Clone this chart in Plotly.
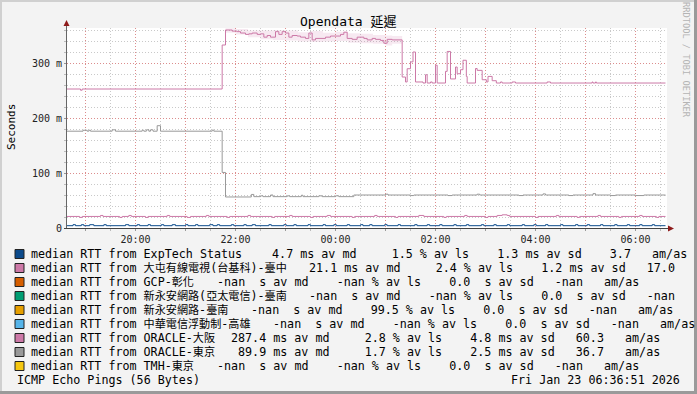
import plotly.graph_objects as go
from datetime import datetime

# ---------------- data (ms) ----------------
osaka_times = ["18:37", "18:54", "18:56", "21:44", "21:48", "21:56", "22:02", "22:06", "22:12", "22:16",
               "22:20", "22:26", "22:30", "22:34", "22:38", "22:42", "22:48", "22:52", "22:56", "23:00",
               "23:04", "23:08", "23:14", "23:18", "23:24", "23:28", "23:32", "23:36", "23:48", "23:54",
               "00:06", "00:10", "00:14", "00:20", "00:26", "00:34", "00:38", "00:44", "00:48", "00:54",
               "00:58", "01:02", "01:08", "01:20", "01:24", "01:26", "01:30", "01:33", "01:36", "01:45",
               "01:48", "01:50", "01:54", "01:56", "02:00", "02:02", "02:12", "02:14", "02:18", "02:24",
               "02:26", "02:30", "02:33", "02:37", "02:38", "02:48", "02:50", "02:56", "03:01", "03:03",
               "03:08", "03:13", "03:18", "03:20", "03:32", "03:36", "04:14", "04:18", "05:08", "05:09",
               "05:12", "05:13", "06:36"]
osaka_ms = [252.7, 250.5, 252.7, 332.7, 360.0, 358.0, 357.0, 354.5, 352.0, 353.0,
            354.5, 352.0, 353.0, 347.0, 350.0, 347.0, 357.0, 352.0, 357.0, 354.5,
            347.0, 350.0, 349.0, 347.0, 344.7, 354.5, 342.0, 344.7, 347.0, 349.0,
            352.0, 356.0, 344.7, 343.0, 347.0, 344.7, 342.0, 344.7, 343.0, 341.0,
            336.0, 343.0, 342.0, 274.5, 265.5, 289.6, 302.0, 320.0, 265.5, 263.6,
            278.7, 263.6, 265.5, 263.6, 296.0, 263.6, 284.8, 321.0, 271.0, 292.7,
            280.5, 287.8, 305.0, 275.6, 263.6, 290.0, 286.6, 269.6, 265.5, 275.6,
            267.8, 263.6, 265.5, 263.6, 265.5, 263.6, 265.5, 263.6, 265.5, 263.6,
            265.5, 263.6, 263.6]

# smoke (spread of pings) around the ORACLE-大阪 median
osaka_smoke_times = ["21:48", "22:00", "22:15", "22:30", "22:45", "23:00", "23:15", "23:30", "23:45",
                     "00:00", "00:15", "00:30", "00:45", "01:00", "01:08", "01:20"]
osaka_smoke_hi = [363, 362, 359, 359, 360, 359, 356, 358, 355, 357, 354, 353, 351, 350, 349, 349]
osaka_smoke_lo = [355, 352, 347, 343, 342, 341, 339, 338, 339, 340, 337, 336, 335, 332, 335, 335]

tokyo_times = ["18:37", "18:57", "19:02", "19:04", "19:06", "19:32", "19:36", "20:08", "20:10", "20:13",
               "20:16", "20:18", "20:21", "20:26", "20:30", "21:32", "21:34", "21:44", "21:48", "22:19",
               "22:22", "22:30", "22:33", "22:42", "22:45", "23:02", "23:05", "23:19", "23:21", "23:40",
               "23:44", "00:00", "00:04", "00:22", "01:00", "01:03", "01:30", "01:34", "02:15", "02:20",
               "02:50", "02:53", "03:40", "03:45", "04:09", "04:12", "04:40", "04:45", "05:09", "05:12",
               "05:30", "05:36", "06:00", "06:10", "06:36"]
tokyo_ms = [176.0, 177.7, 176.0, 177.7, 176.0, 178.5, 176.0, 177.7, 176.0, 178.5,
            176.0, 178.5, 176.0, 186.0, 176.0, 178.0, 176.0, 101.0, 56.4, 61.0,
            57.0, 58.5, 57.0, 60.0, 57.0, 58.5, 57.0, 59.5, 57.0, 58.5,
            57.0, 58.5, 57.0, 60.0, 61.5, 60.0, 59.0, 60.0, 59.0, 60.0,
            61.5, 60.0, 59.0, 60.0, 62.0, 60.0, 59.0, 60.0, 62.5, 60.0,
            59.0, 60.0, 59.0, 60.0, 59.5]

daton_times = ["18:37", "18:53", "18:56", "19:18", "19:21", "19:41", "19:44", "19:52", "19:55", "20:12",
               "20:15", "20:38", "20:41", "21:02", "21:06", "21:25", "21:28", "21:50", "21:53", "22:15",
               "22:18", "22:44", "22:47", "23:05", "23:08", "23:30", "23:33", "23:50", "23:54", "00:20",
               "00:23", "00:47", "00:50", "01:12", "01:15", "01:40", "01:46", "02:10", "02:13", "02:35",
               "02:38", "03:00", "03:03", "03:14", "03:20", "03:26", "03:29", "04:00", "04:03", "04:25",
               "04:28", "04:50", "04:53", "05:15", "05:18", "05:40", "05:43", "06:05", "06:08", "06:25",
               "06:28", "06:36"]
daton_ms = [21.0, 19.2, 21.0, 22.8, 21.0, 19.2, 21.0, 22.8, 21.0, 19.2,
            21.0, 22.8, 21.0, 19.2, 21.0, 22.8, 21.0, 19.2, 21.0, 22.8,
            21.0, 19.2, 21.0, 22.8, 21.0, 19.2, 21.0, 22.8, 21.0, 19.2,
            21.0, 22.8, 21.0, 19.2, 21.0, 22.8, 21.0, 19.2, 21.0, 22.8,
            21.0, 19.2, 21.0, 22.8, 24.0, 22.8, 21.0, 19.2, 21.0, 22.8,
            21.0, 19.2, 21.0, 22.8, 21.0, 19.2, 21.0, 22.8, 21.0, 19.2,
            21.0, 21.0]

exptech_times = ["18:37", "18:45", "18:48", "18:55", "18:58", "19:05", "19:10", "19:22", "19:25", "19:48",
                 "19:52", "20:02", "20:05", "20:15", "20:18", "20:31", "20:34", "20:44", "20:48", "21:00",
                 "21:03", "21:12", "21:15", "21:29", "21:33", "21:38", "21:41", "21:55", "21:58", "22:10",
                 "22:13", "22:20", "22:24", "22:40", "22:43", "22:58", "23:01", "23:10", "23:13", "23:27",
                 "23:30", "23:45", "23:48", "23:58", "00:01", "00:14", "00:17", "00:30", "00:33", "00:41",
                 "00:44", "00:59", "01:02", "01:15", "01:18", "01:35", "01:38", "01:50", "01:53", "02:05",
                 "02:08", "02:22", "02:25", "02:37", "02:40", "02:55", "02:58", "03:10", "03:13", "03:26",
                 "03:29", "03:44", "03:47", "03:58", "04:01", "04:12", "04:15", "04:30", "04:33", "04:48",
                 "04:51", "05:02", "05:05", "05:18", "05:21", "05:35", "05:38", "05:50", "05:53", "06:05",
                 "06:08", "06:20", "06:23", "06:36"]
exptech_ms = [4.2, 6.0, 4.2, 6.0, 4.2, 6.0, 4.2, 6.0, 4.2, 6.0,
              4.2, 6.0, 4.2, 6.0, 4.2, 6.0, 4.2, 6.0, 4.2, 6.0,
              4.2, 6.0, 4.2, 6.0, 4.2, 6.0, 4.2, 6.0, 4.2, 6.0,
              4.2, 6.0, 4.2, 6.0, 4.2, 6.0, 4.2, 6.0, 4.2, 6.0,
              4.2, 6.0, 4.2, 6.0, 4.2, 6.0, 4.2, 6.0, 4.2, 6.0,
              4.2, 6.0, 4.2, 6.0, 4.2, 6.0, 4.2, 6.0, 4.2, 6.0,
              4.2, 6.0, 4.2, 6.0, 4.2, 6.0, 4.2, 6.0, 4.2, 6.0,
              4.2, 6.0, 4.2, 6.0, 4.2, 6.0, 4.2, 6.0, 4.2, 6.0,
              4.2, 6.0, 4.2, 6.0, 4.2, 6.0, 4.2, 6.0, 4.2, 6.0,
              4.2, 6.0, 4.2, 4.2]

host_labels = ["ExpTech Status", "大屯有線電視(台基科)-臺中", "GCP-彰化", "新永安網路(亞太電信)-臺南",
               "新永安網路-臺南", "中華電信浮動制-高雄", "ORACLE-大阪", "ORACLE-東京", "TMH-東京"]
host_colors = ["#0b4a8b", "#cc79a7", "#d55e00", "#009e73", "#e69f00", "#56b4e9", "#cc79a7", "#999999", "#f5c710"]
stat_md = ["4.7", "21.1", "-nan", "-nan", "-nan", "-nan", "287.4", "89.9", "-nan"]
stat_md_unit = ["m", "m", " ", " ", " ", " ", "m", "m", " "]
stat_ls = ["1.5", "2.4", "-nan", "-nan", "99.5", "-nan", "2.8", "1.7", "-nan"]
stat_sd = ["1.3", "1.2", "0.0", "0.0", "0.0", "0.0", "4.8", "2.5", "0.0"]
stat_sd_unit = ["m", "m", " ", " ", " ", " ", "m", "m", " "]
stat_amas = ["3.7", "17.0", "-nan", "-nan", "-nan", "-nan", "60.3", "36.7", "-nan"]

y_tick_vals = [0, 100, 200, 300]
y_tick_text = ["0", "100 m", "200 m", "300 m"]

# ---------------- layout helpers ----------------
W, H = 697, 394
L, R, T, B = 67, 30, 28, 166
PW, PH = W - L - R, H - T - B


def px(x):
    return (x - L) / PW


def py(y):
    return (H - B - y) / PH


def to_dt(s):
    h, m = map(int, s.split(":"))
    return datetime(2026, 1, 22 if h >= 12 else 23, h, m)


MONO = "DejaVu Sans Mono, Noto Sans CJK TC, monospace"
CW = 7.04  # advance of one legend character in px


def cjk_wrap(s):
    out, run_cjk, buf = [], None, ""
    for ch in s:
        is_cjk = ord(ch) > 0x2E80
        if run_cjk is None or is_cjk == run_cjk:
            buf += ch
        else:
            out.append((run_cjk, buf))
            buf = ch
        run_cjk = is_cjk
    if buf:
        out.append((run_cjk, buf))
    res = ""
    for c, t in out:
        t = t.replace(" ", "\u00a0")
        res += f'<span style="font-size:11.1px">{t}</span>' if c else t
    return res


def label_width(s):
    return sum(11.1 if ord(ch) > 0x2E80 else CW for ch in s)


fig = go.Figure()
series = [(exptech_times, exptech_ms, host_colors[0]),
          (daton_times, daton_ms, host_colors[1])]
for ts, vs, c in series:
    fig.add_trace(go.Scatter(x=[to_dt(t) for t in ts], y=vs, mode="lines",
                             line=dict(color=c, width=1, shape="hv"),
                             showlegend=False, hoverinfo="skip"))
# smoke band
fig.add_trace(go.Scatter(x=[to_dt(t) for t in osaka_smoke_times], y=osaka_smoke_lo, mode="lines",
                         line=dict(width=0, shape="hv"), showlegend=False, hoverinfo="skip"))
fig.add_trace(go.Scatter(x=[to_dt(t) for t in osaka_smoke_times], y=osaka_smoke_hi, mode="lines",
                         line=dict(width=0, shape="hv"), fill="tonexty",
                         fillcolor="rgba(204,121,167,0.16)", showlegend=False, hoverinfo="skip"))
for ts, vs, c in [(osaka_times, osaka_ms, host_colors[6]), (tokyo_times, tokyo_ms, host_colors[7])]:
    fig.add_trace(go.Scatter(x=[to_dt(t) for t in ts], y=vs, mode="lines",
                             line=dict(color=c, width=1, shape="hv"),
                             showlegend=False, hoverinfo="skip"))

hours = [datetime(2026, 1, 22, h) for h in range(19, 24)] + [datetime(2026, 1, 23, h) for h in range(0, 7)]
tick_text = [h.strftime("%H:%M") if h.hour % 2 == 0 else "" for h in hours]

MAJ = "rgba(225,120,120,0.75)"
MIN = "#c9c9c9"
DASH = "1px,2px"

fig.update_layout(
    width=W, height=H,
    margin=dict(l=L, r=R, t=T, b=B),
    paper_bgcolor="#f3f3f3", plot_bgcolor="#ffffff",
    showlegend=False,
    xaxis=dict(range=[datetime(2026, 1, 22, 18, 37, 48), datetime(2026, 1, 23, 6, 37, 48)],
               tickmode="array", tickvals=hours, ticktext=tick_text,
               showgrid=True, gridcolor=MAJ, griddash=DASH, gridwidth=1,
               ticks="outside", ticklen=2, tickcolor="#999",
               minor=dict(dtick=1800000, tick0=datetime(2026, 1, 22, 19, 0), showgrid=True,
                          gridcolor=MIN, griddash=DASH, ticks="outside", ticklen=2, tickcolor="#bbb"),
               tickfont=dict(family=MONO, size=10, color="#222"),
               showline=False, zeroline=False, fixedrange=True),
    yaxis=dict(range=[0, PH / 0.55], tickmode="array", tickvals=y_tick_vals, ticktext=y_tick_text,
               showgrid=True, gridcolor=MAJ, griddash=DASH, gridwidth=1,
               ticks="outside", ticklen=2, tickcolor="#999",
               minor=dict(dtick=20, tick0=0, showgrid=True, gridcolor=MIN, griddash=DASH,
                          ticks="outside", ticklen=2, tickcolor="#bbb"),
               tickfont=dict(family=MONO, size=10, color="#222"),
               showline=False, zeroline=False, fixedrange=True),
)

shapes = []
# frame of canvas
shapes.append(dict(type="rect", xref="paper", yref="paper", x0=px(0), x1=px(2), y0=py(H), y1=py(0),
                   fillcolor="#d0d0d0", line_width=0, layer="above"))
shapes.append(dict(type="rect", xref="paper", yref="paper", x0=px(0), x1=px(W), y0=py(2), y1=py(0),
                   fillcolor="#d0d0d0", line_width=0, layer="above"))
shapes.append(dict(type="rect", xref="paper", yref="paper", x0=px(W - 3), x1=px(W), y0=py(H), y1=py(0),
                   fillcolor="#9a9a9a", line_width=0, layer="above"))
shapes.append(dict(type="rect", xref="paper", yref="paper", x0=px(0), x1=px(W), y0=py(H), y1=py(H - 3),
                   fillcolor="#9a9a9a", line_width=0, layer="above"))
# axes
shapes.append(dict(type="line", xref="paper", yref="paper", x0=px(66.5), x1=px(66.5), y0=py(228.5), y1=py(25),
                   line=dict(color="#666", width=1), layer="above"))
shapes.append(dict(type="line", xref="paper", yref="paper", x0=px(64), x1=px(669), y0=py(228.5), y1=py(228.5),
                   line=dict(color="#444", width=1), layer="above"))
shapes.append(dict(type="path", xref="paper", yref="paper",
                   path=f"M {px(66.5)} {py(20)} L {px(63.5)} {py(26)} L {px(69.5)} {py(26)} Z",
                   fillcolor="#8e1b1b", line_width=0, layer="above"))
shapes.append(dict(type="path", xref="paper", yref="paper",
                   path=f"M {px(674)} {py(228.5)} L {px(668)} {py(225.5)} L {px(668)} {py(231.5)} Z",
                   fillcolor="#8e1b1b", line_width=0, layer="above"))

annotations = []
annotations.append(dict(text="Opendata 延遲", x=px(348), y=py(21), xref="paper", yref="paper",
                        showarrow=False, xanchor="center", yanchor="middle",
                        font=dict(family=MONO, size=13, color="#000")))
annotations.append(dict(text="Seconds", x=px(11), y=py(127), xref="paper", yref="paper",
                        showarrow=False, xanchor="center", yanchor="middle", textangle=-90,
                        font=dict(family=MONO, size=11, color="#000")))
annotations.append(dict(text="RRDTOOL\u00a0/\u00a0TOBI\u00a0OETIKER", x=px(686), y=py(60), xref="paper",
                        yref="paper", showarrow=False, xanchor="center", yanchor="middle", textangle=90,
                        font=dict(family=MONO, size=8.7, color="#b4b4b4")))

LEG_FONT = dict(family=MONO, size=11.7, color="#000")
LX = 29.5
for i, lab in enumerate(host_labels):
    yc = 254 + 14 * i
    col = host_colors[i]
    shapes.append(dict(type="rect", xref="paper", yref="paper", x0=px(15), x1=px(24), y0=py(yc + 4.5),
                       y1=py(yc - 4.5), fillcolor=col, line=dict(color="#222", width=1), layer="above"))
    full = "median RTT from " + lab
    annotations.append(dict(text=cjk_wrap(full), x=px(LX), y=py(yc),
                            xref="paper", yref="paper", showarrow=False, xanchor="left", yanchor="middle",
                            borderpad=0, font=LEG_FONT))
    f0 = LX + label_width(full) + 16  # start of first number field
    st = (f"{stat_md[i]:>5} {stat_md_unit[i]}s av md   {stat_ls[i]:>5} % av ls  "
          f"{stat_sd[i]:>5} {stat_sd_unit[i]}s av sd  {stat_amas[i]:>5}")
    if f0 + 56 * CW < 690:
        st += "   am/as"
    annotations.append(dict(text=st.replace(" ", "\u00a0"), x=px(f0), y=py(yc),
                            xref="paper", yref="paper", showarrow=False, xanchor="left", yanchor="middle",
                            borderpad=0, font=LEG_FONT))

annotations.append(dict(text="ICMP\u00a0Echo\u00a0Pings\u00a0(56\u00a0Bytes)", x=px(16), y=py(380),
                        xref="paper", yref="paper", showarrow=False, xanchor="left", yanchor="middle",
                        borderpad=0, font=LEG_FONT))
annotations.append(dict(text="Fri\u00a0Jan\u00a023\u00a006:36:51\u00a02026", x=px(681), y=py(380),
                        xref="paper", yref="paper", showarrow=False, xanchor="right", yanchor="middle",
                        borderpad=0, font=LEG_FONT))

fig.update_layout(shapes=shapes, annotations=annotations)
fig.write_html("out.html")
